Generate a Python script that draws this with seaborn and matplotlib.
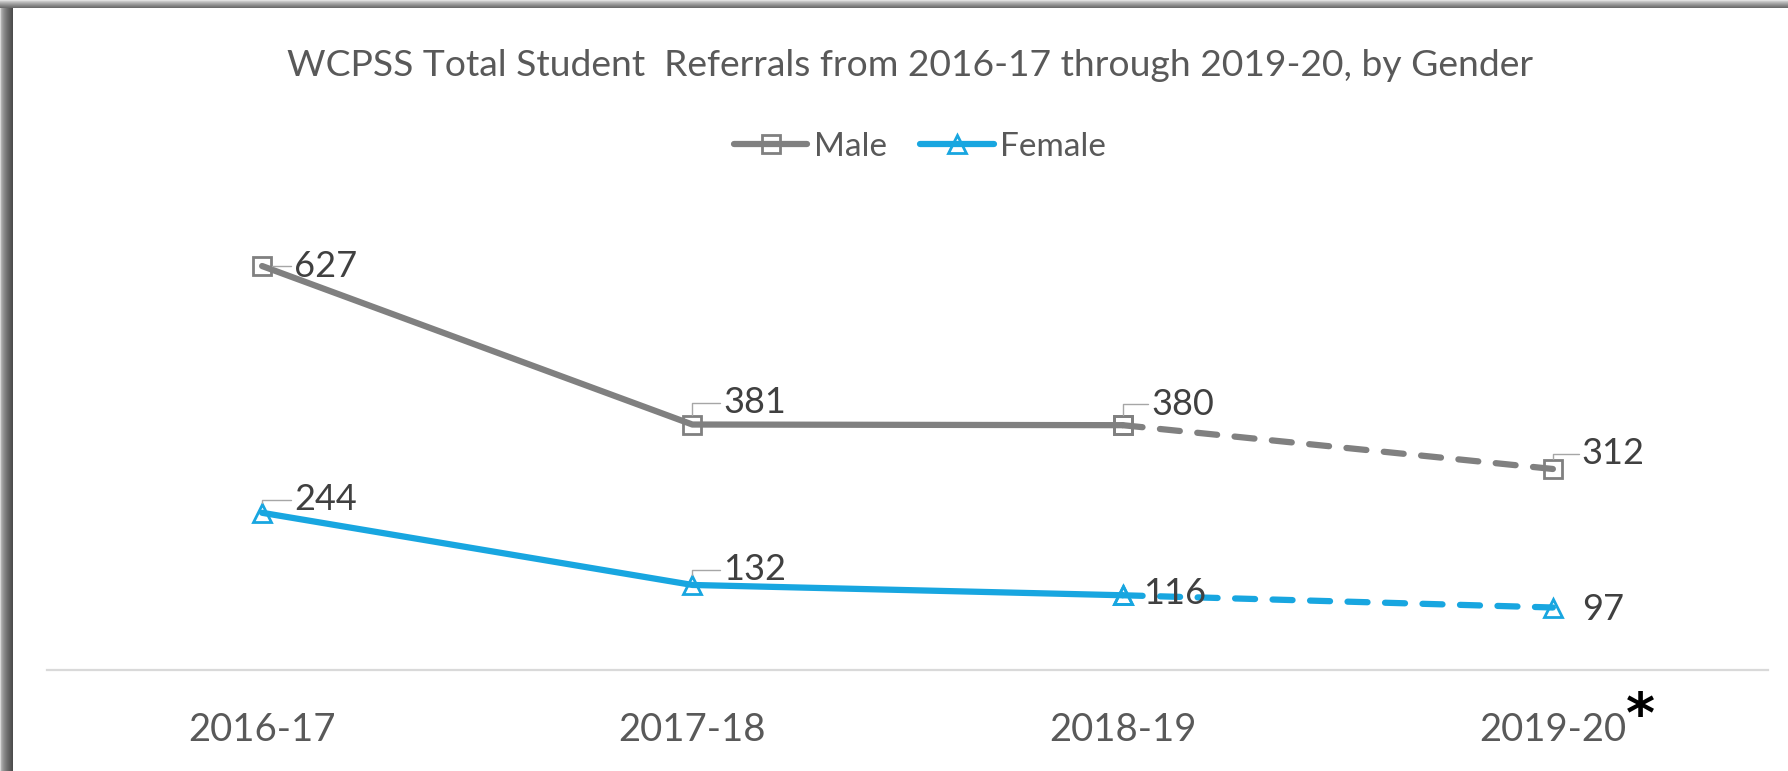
import numpy as np
import pandas as pd
import matplotlib.pyplot as plt
import seaborn as sns

# =========================
# DATOS
# =========================
years = ["2016-17", "2017-18", "2018-19", "2019-20"]
male = [627, 381, 380, 312]
female = [244, 132, 116, 97]

df = pd.DataFrame({"year": years, "Male": male, "Female": female})
solid = df.iloc[:3]
dashed = df.iloc[2:]

# offsets de las etiquetas (pixeles) y si llevan linea guia
male_offsets = [(32, 0), (31, 22), (29, 21), (29, 15)]
female_offsets = [(32, 13), (31, 15), (20, 2), (29, -2)]
female_leader = [True, True, False, False]
male_leader = [True, True, True, True]

GRAY = "#808080"
BLUE = "#18A6E0"
TXT = "#595959"
LBL = "#404040"

sns.set_theme(style="white")
plt.rcParams["font.family"] = ["Lato", "DejaVu Sans"]

fig = plt.figure(figsize=(17.88, 7.71), dpi=100)

# marco con sombra (arriba e izquierda)
H, W = 771, 1788
bg = np.ones((H, W, 3))
t_top = np.linspace(0, 1, 8)
for i, t in enumerate(t_top):
    bg[i, :, :] = 0.88 - 0.45 * t ** 0.8
t_left = np.linspace(0, 1, 13)
for j, t in enumerate(t_left):
    bg[8:, j, :] = np.minimum(bg[8:, j, :], 0.85 - 0.55 * t ** 0.5)
bax = fig.add_axes([0, 0, 1, 1], zorder=-5)
bax.imshow(bg, aspect="auto", interpolation="nearest")
bax.axis("off")

ax = fig.add_axes([47 / W, 1 - 670 / H, (1768 - 47) / W, (670 - 219) / H])
ax.set_facecolor("none")

line_kw = dict(linewidth=4.5, markersize=13, markerfacecolor="none",
               markeredgewidth=2.0, solid_capstyle="round")

sns.lineplot(data=solid, x="year", y="Male", ax=ax, color=GRAY, marker="s",
             markeredgecolor=GRAY, label="Male", **line_kw)
sns.lineplot(data=solid, x="year", y="Female", ax=ax, color=BLUE, marker="^",
             markeredgecolor=BLUE, label="Female", **line_kw)
sns.lineplot(data=dashed, x="year", y="Male", ax=ax, color=GRAY, marker="s",
             markeredgecolor=GRAY, linestyle=(0, (3.2, 2.8)),
             dash_capstyle="round", legend=False, **line_kw)
sns.lineplot(data=dashed, x="year", y="Female", ax=ax, color=BLUE, marker="^",
             markeredgecolor=BLUE, linestyle=(0, (3.2, 2.8)),
             dash_capstyle="round", legend=False, **line_kw)

ax.set_xlim(-0.5, 3.5)
ax.set_ylim(0, 700)

# etiquetas de datos
for series, offs, leads in [(male, male_offsets, male_leader),
                            (female, female_offsets, female_leader)]:
    for i, (val, off, lead) in enumerate(zip(series, offs, leads)):
        arrow = None
        if lead:
            arrow = dict(arrowstyle="-", color="#A6A6A6", lw=1.0,
                         connectionstyle="angle,angleA=0,angleB=90,rad=0",
                         relpos=(0, 0.5), shrinkA=0, shrinkB=7)
        ax.annotate(str(val), xy=(i, val), xytext=off,
                    textcoords="offset pixels", ha="left", va="center",
                    fontsize=26, color=LBL, arrowprops=arrow)

# ejes
ax.set_xlabel("")
ax.set_ylabel("")
ax.set_yticks([])
for s in ["top", "right", "left"]:
    ax.spines[s].set_visible(False)
ax.spines["bottom"].set_color("#D9D9D9")
ax.spines["bottom"].set_linewidth(1.6)
ax.tick_params(axis="x", length=0, pad=30, labelsize=27.5, labelcolor=TXT)

fig.text(910 / W, 1 - 66 / H,
         "WCPSS Total Student  Referrals from 2016-17 through 2019-20, by Gender",
         ha="center", va="center", fontsize=26.8, color=TXT)

ax.legend(loc="center", bbox_to_anchor=(920 / W, 1 - 147 / H),
          bbox_transform=fig.transFigure, ncol=2, frameon=False,
          fontsize=24, labelcolor=TXT, handlelength=2.2, handletextpad=0.2,
          columnspacing=1.0)

fig.text(1640 / W, 1 - 717 / H, "*", ha="center", va="center",
         fontsize=40, fontweight="bold", color="black",
         family=["DejaVu Sans"])

fig.savefig("out.png", dpi=100)
